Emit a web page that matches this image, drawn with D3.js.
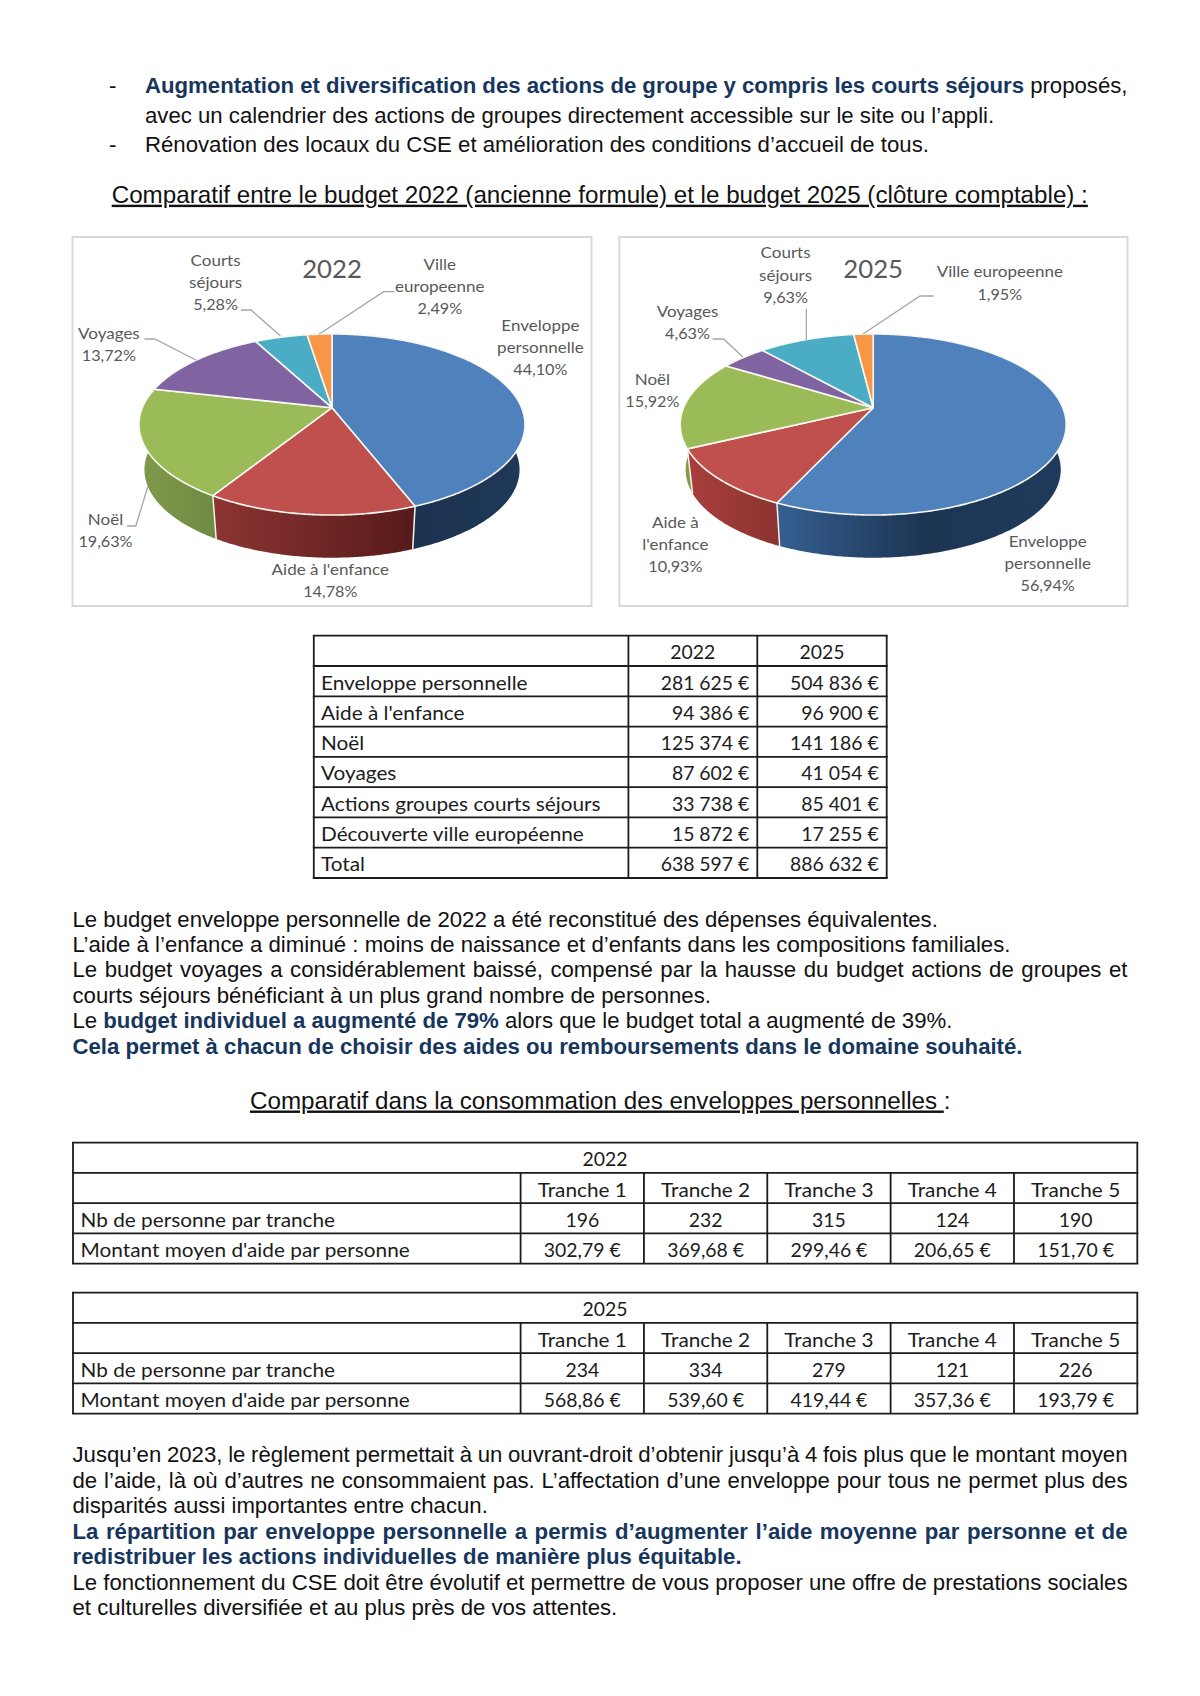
<!DOCTYPE html>
<html><head><meta charset="utf-8">
<script src="https://cdn.jsdelivr.net/npm/d3@7/dist/d3.min.js"></script>
<style>html,body{margin:0;background:#fff}svg{display:block}</style>
</head><body><div id="c"></div>
<script>
// ---------- data ----------
const categories = ["Enveloppe personnelle","Aide à l'enfance","Noël","Voyages","Actions groupes courts séjours","Découverte ville européenne"];
const budget2022 = [281625,94386,125374,87602,33738,15872];
const budget2025 = [504836,96900,141186,41054,85401,17255];
const total2022 = 638597, total2025 = 886632;
const sliceColors = ["#4f81bd","#c0504d","#9bbb59","#8064a2","#4bacc6","#f79646"];
const sideColors2022 = [["#1c3350","#1e3858"],["#8c3533","#561a1a"],["#80994c","#6f8b42"],["#57426f","#57426f"],["#2f7a8e","#2f7a8e"],["#b56a2b","#b56a2b"]];
const sideColors2025 = [["#365f91","#1c3553","#1f3a5c"],["#a83f3c","#8c3331"],["#7f9a48","#7f9a48"],["#57426f","#57426f"],["#2f7a8e","#2f7a8e"],["#b56a2b","#b56a2b"]];
const labels2022 = [["Enveloppe","personnelle"],["Aide à l'enfance"],["Noël"],["Voyages"],["Courts","séjours"],["Ville","europeenne"]];
const labels2025 = [["Enveloppe","personnelle"],["Aide à","l'enfance"],["Noël"],["Voyages"],["Courts","séjours"],["Ville europeenne"]];
const labelPos2022 = [[540.4,331],[330.3,574.8],[105.5,525],[108.9,339],[215.6,265.7],[439.8,270]];
const labelPos2025 = [[1047.7,546.7],[675.4,527.7],[652.4,385],[687.5,316.7],[785.6,258.3],[999.8,277.3]];
const leaders2022 = [[[240.8,310],[251,310],[280.4,336]],[[394.7,291.7],[383.7,291.7],[319,334.3]],[[144.4,339],[154.7,339],[196,360]],[[127,526],[135.8,526],[147.8,486.7]]];
const leaders2025 = [[[806.3,309],[806.3,340]],[[933.7,296],[920,296],[863,334]],[[712.6,339],[723.6,339],[742.6,356.7]]];
const tableYears = ["2022","2025"];
const trancheHeaders = ["Tranche 1","Tranche 2","Tranche 3","Tranche 4","Tranche 5"];
const rowNb = "Nb de personne par tranche", rowMontant = "Montant moyen d'aide par personne";
const nb2022 = [196,232,315,124,190], nb2025 = [234,334,279,121,226];
const aide2022 = [302.79,369.68,299.46,206.65,151.70], aide2025 = [568.86,539.60,419.44,357.36,193.79];
const N="#17365d";
// body text: [baseline, x, justify, runs]
const bodyLines = [
 [93.3,145,1,[["Augmentation et diversification des actions de groupe y compris les courts séjours",1],[" proposés,",0]]],
 [123,145,0,[["avec un calendrier des actions de groupes directement accessible sur le site ou l’appli.",0]]],
 [152.3,145,0,[["Rénovation des locaux du CSE et amélioration des conditions d’accueil de tous.",0]]],
 [926.8,72.5,0,[["Le budget enveloppe personnelle de 2022 a été reconstitué des dépenses équivalentes.",0]]],
 [952,72.5,0,[["L’aide à l’enfance a diminué : moins de naissance et d’enfants dans les compositions familiales.",0]]],
 [977.4,72.5,1,[["Le budget voyages a considérablement baissé, compensé par la hausse du budget actions de groupes et",0]]],
 [1002.9,72.5,0,[["courts séjours bénéficiant à un plus grand nombre de personnes.",0]]],
 [1028.2,72.5,0,[["Le ",0],["budget individuel a augmenté de 79%",1],[" alors que le budget total a augmenté de 39%.",0]]],
 [1053.5,72.5,0,[["Cela permet à chacun de choisir des aides ou remboursements dans le domaine souhaité.",1]]],
 [1462.3,72.5,1,[["Jusqu’en 2023, le règlement permettait à un ouvrant-droit d’obtenir jusqu’à 4 fois plus que le montant moyen",0]]],
 [1487.9,72.5,1,[["de l’aide, là où d’autres ne consommaient pas. L’affectation d’une enveloppe pour tous ne permet plus des",0]]],
 [1513.4,72.5,0,[["disparités aussi importantes entre chacun.",0]]],
 [1539,72.5,1,[["La répartition par enveloppe personnelle a permis d’augmenter l’aide moyenne par personne et de",1]]],
 [1564.3,72.5,0,[["redistribuer les actions individuelles de manière plus équitable.",1]]],
 [1589.6,72.5,1,[["Le fonctionnement du CSE doit être évolutif et permettre de vous proposer une offre de prestations sociales",0]]],
 [1615,72.5,0,[["et culturelles diversifiée et au plus près de vos attentes.",0]]]
];
const dashes = [[109,93.3],[109,152.3]];
const headings = [[111.7,202.7,[["Comparatif entre le budget 2022 (ancienne formule) et le budget 2025 (clôture comptable) :",1]]],[250,1108.5,[["Comparatif dans la consommation des enveloppes personnelles ",1],[":",0]]]];

// ---------- helpers ----------
const svg = d3.select("#c").append("svg").attr("width",1200).attr("height",1696).attr("viewBox","0 0 1200 1696");
svg.append("rect").attr("width",1200).attr("height",1696).attr("fill","#fff");
const ARIAL="'Liberation Sans',Arial,sans-serif", CAL="Lato,Carlito,Calibri,sans-serif";
const CAL_FACTOR=1.05, NUM_FACTOR=0.98;
function calText(g,x,y,str,size,anchor,fill,factor){
  const t=g.append("text").attr("x",x).attr("y",y).attr("font-family",CAL).attr("font-size",size).attr("text-anchor",anchor||"start").attr("fill",fill).text(str);
  const w=t.node().getComputedTextLength();
  t.attr("textLength",w*(factor||CAL_FACTOR)).attr("lengthAdjust","spacingAndGlyphs");
  return t;
}
const frFmt = d3.formatLocale({decimal:",",thousands:"\u00a0",grouping:[3],currency:["","\u00a0€"]});
const pct = frFmt.format(".2f"), dec2 = frFmt.format(".2f");
const euro = v => d3.format(",")(v).replace(/,/g," ")+" €";

// ---------- 3D pies ----------
const K=0.1857,A=189.6,B=87.4,SHRINK=0.972,DEPTH=45.7;
function rim(cx,cy,a,s){const u=Math.sin(a),v=Math.cos(a),w=1+K*v;return [cx+s*A*u/w,cy-s*B*v/w];}
const defs=svg.append("defs");
function pie3d(id,frame,cx,values,total,sideCols,labels,labelPos,leaders,year){
  const cy=407.7;
  svg.append("rect").attr("x",frame[0]).attr("y",237).attr("width",frame[1]-frame[0]).attr("height",606-237).attr("fill","#fff").attr("stroke","#d9d9d9").attr("stroke-width",2);
  const arcs=d3.pie().sort(null).value(d=>d)(values);
  const line=d3.line();
  const a0=80*Math.PI/180,a1=280*Math.PI/180;
  const samples=(s,e)=>d3.range(0,Math.max(2,Math.ceil((e-s)/0.01))+1).map((i,_,r)=>s+(e-s)*i/(r.length-1));
  arcs.forEach((d,i)=>{
    const s=Math.max(d.startAngle,a0),e=Math.min(d.endAngle,a1);
    if(e<=s)return;
    const ang=samples(s,e);
    const top=ang.map(a=>rim(cx,cy,a,1)), bot=ang.slice().reverse().map(a=>rim(cx,cy+DEPTH,a,SHRINK));
    const xs=top.concat(bot).map(p=>p[0]);
    const gid=id+"s"+i;
    const gr=defs.append("linearGradient").attr("id",gid).attr("gradientUnits","userSpaceOnUse").attr("x1",d3.min(xs)).attr("x2",d3.max(xs)).attr("y1",0).attr("y2",0);
    sideCols[i].forEach((c,j,arr)=>gr.append("stop").attr("offset",j/(arr.length-1)).attr("stop-color",c));
    svg.append("path").attr("d",line(top.concat(bot))+"Z").attr("fill",`url(#${gid})`);
  });
  arcs.forEach(d=>{
    if(d.endAngle>a0&&d.endAngle<a1){
      svg.append("path").attr("d",line([rim(cx,cy,d.endAngle,1),rim(cx,cy+DEPTH,d.endAngle,SHRINK)])).attr("stroke","#f4f4ee").attr("stroke-width",1.5).attr("fill","none");
    }
  });
  arcs.forEach((d,i)=>{
    const pts=[[cx,cy]].concat(samples(d.startAngle,d.endAngle).map(a=>rim(cx,cy,a,1)));
    svg.append("path").attr("d",line(pts)+"Z").attr("fill",sliceColors[i]).attr("stroke","#f8f8f0").attr("stroke-width",1.6).attr("stroke-linejoin","round");
  });
  leaders.forEach(l=>svg.append("path").attr("d",line(l)).attr("fill","none").attr("stroke","#a6a6a6").attr("stroke-width",1.3));
  calText(svg,cx,278,year,24.5,"middle","#595959");
  labels.forEach((ls,i)=>{
    const lines=ls.concat([pct(values[i]/total*100)+"%"]);
    lines.forEach((t,j)=>calText(svg,labelPos[i][0],labelPos[i][1]+j*22.2,t,16.2,"middle","#595959",j===lines.length-1?1.0:CAL_FACTOR));
  });
}
pie3d("a",[72.5,591.5],332,budget2022,total2022,sideColors2022,labels2022,labelPos2022,leaders2022,"2022");
pie3d("b",[619.3,1127.5],873.2,budget2025,total2025,sideColors2025,labels2025,labelPos2025,leaders2025,"2025");

// ---------- tables ----------
const INK="#1c1c1c", TF=19.8, TB=23.6;
function hline(x0,x1,y){svg.append("line").attr("x1",x0).attr("x2",x1).attr("y1",y).attr("y2",y).attr("stroke",INK).attr("stroke-width",1.8);}
function vline(x,y0,y1){svg.append("line").attr("x1",x).attr("x2",x).attr("y1",y0).attr("y2",y1).attr("stroke",INK).attr("stroke-width",1.8);}
// budget table
{
  const rows=[""].concat(categories,["Total"]);
  const y=d3.scaleBand().domain(d3.range(rows.length)).range([635.7,878]);
  const cols=[313.8,628.4,757.3,886.7];
  d3.range(rows.length+1).forEach(i=>hline(cols[0]-1,cols[3]+1,635.7+i*y.bandwidth()));
  cols.forEach(c=>vline(c,635.7,878));
  const col22=[null].concat(budget2022,[total2022]), col25=[null].concat(budget2025,[total2025]);
  rows.forEach((r,i)=>{
    const b=y(i)+TB;
    if(i===0){
      calText(svg,(cols[1]+cols[2])/2,b,tableYears[0],TF,"middle",INK,NUM_FACTOR);
      calText(svg,(cols[2]+cols[3])/2,b,tableYears[1],TF,"middle",INK,NUM_FACTOR);
    } else {
      calText(svg,321,b,r,TF,"start",INK);
      calText(svg,cols[2]-8,b,euro(col22[i]),TF,"end",INK,NUM_FACTOR);
      calText(svg,cols[3]-8,b,euro(col25[i]),TF,"end",INK,NUM_FACTOR);
    }
  });
}
function trancheTable(top,year,nb,aide){
  const y=d3.scaleBand().domain([0,1,2,3]).range([top,top+121]);
  const x0=73,x1=1137.3;
  const xt=d3.scaleBand().domain(trancheHeaders).range([520.6,1137.3]);
  d3.range(5).forEach(i=>hline(x0-1,x1+1,top+i*y.bandwidth()));
  vline(x0,top,top+121);vline(x1,top,top+121);
  trancheHeaders.forEach(t=>vline(xt(t),top+y.bandwidth(),top+121));
  calText(svg,605,y(0)+TB,year,TF,"middle",INK,NUM_FACTOR);
  trancheHeaders.forEach((t,i)=>{
    const cx=xt(t)+xt.bandwidth()/2;
    calText(svg,cx,y(1)+TB,t,TF,"middle",INK);
    calText(svg,cx,y(2)+TB,String(nb[i]),TF,"middle",INK,NUM_FACTOR);
    calText(svg,cx,y(3)+TB,dec2(aide[i])+" €",TF,"middle",INK,NUM_FACTOR);
  });
  calText(svg,80.5,y(2)+TB,rowNb,TF,"start",INK);
  calText(svg,80.5,y(3)+TB,rowMontant,TF,"start",INK);
}
trancheTable(1142.7,tableYears[0],nb2022,aide2022);
trancheTable(1292.7,tableYears[1],nb2025,aide2025);

// ---------- body text ----------
const FS=22.18;
dashes.forEach(d=>svg.append("text").attr("x",d[0]).attr("y",d[1]).attr("font-family",ARIAL).attr("font-size",FS).attr("fill","#111").text("-"));
bodyLines.forEach(l=>{
  const t=svg.append("text").attr("x",l[1]).attr("y",l[0]).attr("font-family",ARIAL).attr("font-size",FS).attr("fill","#111").style("white-space","pre");
  l[3].forEach(r=>t.append("tspan").text(r[0]).attr("font-weight",r[1]?"700":"400").attr("fill",r[1]?N:"#111"));
  if(l[2]){
    const w=t.node().getComputedTextLength();
    const sp=l[3].map(r=>r[0]).join("").split(" ").length-1;
    t.attr("word-spacing",(1127.5-l[1]-w)/sp);
  }
});
headings.forEach(h=>{
  const t=svg.append("text").attr("x",h[0]).attr("y",h[1]).attr("font-family",ARIAL).attr("font-size",24.2).attr("fill","#111").style("white-space","pre");
  h[2].forEach(r=>t.append("tspan").text(r[0]).style("text-decoration",r[1]?"underline":"none").style("text-decoration-skip-ink","none"));
});
</script></body></html>
